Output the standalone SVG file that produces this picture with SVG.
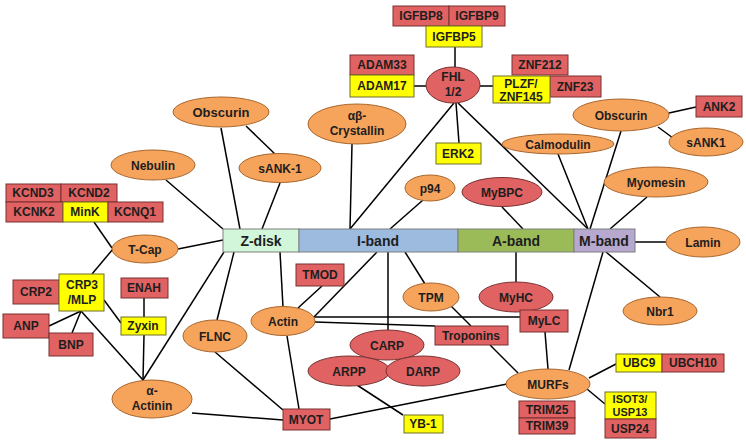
<svg xmlns="http://www.w3.org/2000/svg" width="746" height="442" viewBox="0 0 746 442">
<style>
text{font-family:"Liberation Sans",Arial,sans-serif;font-weight:bold;font-size:12px;fill:#1e1e1e;text-anchor:middle}
.bar{font-size:14px}
.sm{font-size:11px}
.o{fill:#F6A35C;stroke:#A8662C;stroke-width:1}
.r{fill:#E06262;stroke:#7A3030;stroke-width:1}
.y{fill:#FFFF00;stroke:#6E6E2A;stroke-width:1}
#connectors line{stroke:#000;stroke-width:1.5}
</style>
<rect width="746" height="442" fill="#fff"/>
<g id="connectors">
<line x1="166" y1="180" x2="223" y2="229"/>
<line x1="221" y1="128" x2="240" y2="229"/>
<line x1="246" y1="126" x2="276" y2="155"/>
<line x1="280" y1="183" x2="262" y2="229"/>
<line x1="94" y1="222" x2="112" y2="248"/>
<line x1="178" y1="249" x2="223" y2="240"/>
<line x1="113" y1="249" x2="92" y2="274"/>
<line x1="81" y1="311" x2="49" y2="326"/>
<line x1="81" y1="311" x2="72" y2="333"/>
<line x1="81" y1="311" x2="143" y2="380"/>
<line x1="104" y1="300" x2="121" y2="323"/>
<line x1="144" y1="298" x2="144" y2="317"/>
<line x1="144" y1="335" x2="143" y2="380"/>
<line x1="224" y1="252" x2="143" y2="380"/>
<line x1="234" y1="252" x2="217" y2="320"/>
<line x1="280" y1="252" x2="283" y2="307"/>
<line x1="215" y1="352" x2="283" y2="410"/>
<line x1="192" y1="413" x2="283" y2="420"/>
<line x1="287" y1="336" x2="299" y2="409"/>
<line x1="322" y1="286" x2="298" y2="308"/>
<line x1="313" y1="318" x2="377" y2="252"/>
<line x1="315" y1="317" x2="520" y2="317"/>
<line x1="315" y1="322" x2="435" y2="326"/>
<line x1="388" y1="252" x2="388" y2="330"/>
<line x1="405" y1="252" x2="425" y2="284"/>
<line x1="450" y1="305" x2="471" y2="326"/>
<line x1="352" y1="144" x2="350" y2="229"/>
<line x1="454" y1="103" x2="350" y2="229"/>
<line x1="423" y1="200" x2="390" y2="229"/>
<line x1="456" y1="103" x2="459" y2="143"/>
<line x1="458" y1="103" x2="588" y2="229"/>
<line x1="455" y1="47" x2="455" y2="67"/>
<line x1="414" y1="86" x2="426" y2="86"/>
<line x1="480" y1="86" x2="493" y2="86"/>
<line x1="558" y1="154" x2="588" y2="229"/>
<line x1="621" y1="131" x2="590" y2="229"/>
<line x1="669" y1="113" x2="696" y2="107"/>
<line x1="658" y1="127" x2="673" y2="138"/>
<line x1="647" y1="197" x2="610" y2="229"/>
<line x1="635" y1="242" x2="666" y2="242"/>
<line x1="606" y1="252" x2="660" y2="297"/>
<line x1="502" y1="207" x2="523" y2="229"/>
<line x1="516" y1="252" x2="516" y2="282"/>
<line x1="545" y1="332" x2="548" y2="369"/>
<line x1="603" y1="252" x2="569" y2="370"/>
<line x1="490" y1="345" x2="518" y2="373"/>
<line x1="330" y1="419" x2="507" y2="384"/>
<line x1="357" y1="385" x2="403" y2="415"/>
<line x1="589" y1="378" x2="616" y2="364"/>
<line x1="587" y1="389" x2="605" y2="404"/>
</g>
<g id="bar">
<g id="zdisk"><rect x="223" y="229" width="76" height="23" fill="#D2F6D9" stroke="#7F7F7F"/><text class="bar" x="261" y="246">Z-disk</text></g>
<g id="iband"><rect x="299" y="229" width="159" height="23" fill="#9DBADF" stroke="#7F7F7F"/><text class="bar" x="378" y="246">I-band</text></g>
<g id="aband"><rect x="458" y="229" width="116" height="23" fill="#9BBB59" stroke="#7F7F7F"/><text class="bar" x="516" y="246">A-band</text></g>
<g id="mband"><rect x="574" y="229" width="61" height="23" fill="#B6A8CF" stroke="#7F7F7F"/><text class="bar" x="604" y="246">M-band</text></g>
</g>
<g id="obscurinL"><ellipse class="o" cx="221" cy="112" rx="48" ry="15"/><text x="221" y="117" style="font-size:13px">Obscurin</text></g>
<g id="nebulin"><ellipse class="o" cx="153" cy="165" rx="42" ry="15"/><text x="153" y="170">Nebulin</text></g>
<g id="sank-1"><ellipse class="o" cx="280" cy="168" rx="41" ry="14.5"/><text x="280" y="173">sANK-1</text></g>
<g id="crystallin"><ellipse class="o" cx="357" cy="124" rx="49" ry="20"/><text x="357" y="120">αβ-</text><text x="357" y="135">Crystallin</text></g>
<g id="p94"><ellipse class="o" cx="430" cy="188" rx="25" ry="13"/><text x="430" y="193">p94</text></g>
<g id="calmodulin"><ellipse class="o" cx="558" cy="144" rx="56" ry="10"/><text x="558" y="149">Calmodulin</text></g>
<g id="obscurinR"><ellipse class="o" cx="621" cy="115" rx="48" ry="16"/><text x="621" y="120">Obscurin</text></g>
<g id="sank1"><ellipse class="o" cx="706" cy="142" rx="37" ry="14"/><text x="706" y="147">sANK1</text></g>
<g id="myomesin"><ellipse class="o" cx="656" cy="182" rx="52" ry="15"/><text x="656" y="187">Myomesin</text></g>
<g id="lamin"><ellipse class="o" cx="703" cy="242" rx="37" ry="15"/><text x="703" y="247">Lamin</text></g>
<g id="nbr1"><ellipse class="o" cx="660" cy="311" rx="37" ry="14"/><text x="660" y="316">Nbr1</text></g>
<g id="tpm"><ellipse class="o" cx="431" cy="297" rx="28" ry="14"/><text x="431" y="302">TPM</text></g>
<g id="tcap"><ellipse class="o" cx="145" cy="249" rx="33" ry="14"/><text x="145" y="254">T-Cap</text></g>
<g id="actin"><ellipse class="o" cx="283" cy="321" rx="32" ry="14.5"/><text x="283" y="326">Actin</text></g>
<g id="flnc"><ellipse class="o" cx="215" cy="336" rx="32" ry="16"/><text x="215" y="341">FLNC</text></g>
<g id="actinin"><ellipse class="o" cx="152" cy="399" rx="40" ry="19"/><text x="152" y="395">α-</text><text x="152" y="410">Actinin</text></g>
<g id="murfs"><ellipse class="o" cx="548" cy="384" rx="42" ry="15"/><text x="548" y="389">MURFs</text></g>
<g id="fhl"><ellipse class="r" cx="453" cy="85" rx="27" ry="18"/><text x="453" y="81">FHL</text><text x="453" y="96">1/2</text></g>
<g id="mybpc"><ellipse class="r" cx="502" cy="192" rx="40" ry="14.5"/><text x="502" y="197">MyBPC</text></g>
<g id="myhc"><ellipse class="r" cx="516" cy="297" rx="37" ry="15"/><text x="516" y="302">MyHC</text></g>
<g id="carp"><ellipse class="r" cx="387" cy="345" rx="37" ry="15"/><text x="387" y="350">CARP</text></g>
<g id="arpp"><ellipse class="r" cx="349" cy="371" rx="41" ry="15"/><text x="349" y="376">ARPP</text></g>
<g id="darp"><ellipse class="r" cx="423" cy="371" rx="37" ry="15"/><text x="423" y="376">DARP</text></g>
<g id="igfbp8"><rect class="r" x="393" y="6" width="56" height="20"/><text x="421" y="20">IGFBP8</text></g>
<g id="igfbp9"><rect class="r" x="449" y="6" width="56" height="20"/><text x="477" y="20">IGFBP9</text></g>
<g id="igfbp5"><rect class="y" x="426" y="26" width="56" height="21"/><text x="454" y="41">IGFBP5</text></g>
<g id="adam33"><rect class="r" x="350" y="55" width="64" height="20"/><text x="382" y="69">ADAM33</text></g>
<g id="adam17"><rect class="y" x="350" y="75" width="64" height="22"/><text x="382" y="90">ADAM17</text></g>
<g id="znf212"><rect class="r" x="512" y="55" width="56" height="20"/><text x="540" y="69">ZNF212</text></g>
<g id="znf23"><rect class="r" x="550" y="76" width="51" height="21"/><text x="575" y="91">ZNF23</text></g>
<g id="plzf"><rect class="y" x="493" y="76" width="57" height="27"/><text x="521" y="88">PLZF/</text><text x="521" y="101">ZNF145</text></g>
<g id="erk2"><rect class="y" x="436" y="143" width="45" height="21"/><text x="458" y="158">ERK2</text></g>
<g id="ank2"><rect class="r" x="696" y="96" width="46" height="21"/><text x="719" y="111">ANK2</text></g>
<g id="kcnd3"><rect class="r" x="6" y="184" width="55" height="18"/><text x="33" y="197">KCND3</text></g>
<g id="kcnd2"><rect class="r" x="61" y="184" width="56" height="18"/><text x="89" y="197">KCND2</text></g>
<g id="kcnk2"><rect class="r" x="6" y="202" width="57" height="20"/><text x="34" y="216">KCNK2</text></g>
<g id="mink"><rect class="y" x="63" y="202" width="45" height="20"/><text x="85" y="216">MinK</text></g>
<g id="kcnq1"><rect class="r" x="108" y="202" width="55" height="20"/><text x="135" y="216">KCNQ1</text></g>
<g id="crp2"><rect class="r" x="13" y="280" width="46" height="24"/><text x="36" y="296">CRP2</text></g>
<g id="crp3"><rect class="y" x="59" y="274" width="45" height="37"/><text x="82" y="289">CRP3</text><text x="82" y="304">/MLP</text></g>
<g id="anp"><rect class="r" x="3" y="314" width="46" height="24"/><text x="26" y="330">ANP</text></g>
<g id="bnp"><rect class="r" x="49" y="333" width="44" height="23"/><text x="71" y="349">BNP</text></g>
<g id="enah"><rect class="r" x="121" y="278" width="47" height="20"/><text x="144" y="292">ENAH</text></g>
<g id="zyxin"><rect class="y" x="121" y="317" width="45" height="18"/><text x="143" y="330">Zyxin</text></g>
<g id="tmod"><rect class="r" x="296" y="264" width="48" height="22"/><text x="320" y="279">TMOD</text></g>
<g id="mylc"><rect class="r" x="520" y="310" width="48" height="22"/><text x="544" y="325">MyLC</text></g>
<g id="troponins"><rect class="r" x="435" y="326" width="73" height="19"/><text x="471" y="340">Troponins</text></g>
<g id="myot"><rect class="r" x="283" y="409" width="47" height="21"/><text x="306" y="424">MYOT</text></g>
<g id="yb1"><rect class="y" x="404" y="415" width="39" height="18"/><text x="423" y="428">YB-1</text></g>
<g id="ubc9"><rect class="y" x="616" y="354" width="46" height="18"/><text x="639" y="367">UBC9</text></g>
<g id="ubch10"><rect class="r" x="662" y="354" width="62" height="18"/><text x="693" y="367">UBCH10</text></g>
<g id="isot3"><rect class="y" x="605" y="392" width="51" height="27"/><text class="sm" x="630" y="403">ISOT3/</text><text class="sm" x="630" y="416">USP13</text></g>
<g id="usp24"><rect class="r" x="605" y="419" width="51" height="19"/><text x="630" y="433">USP24</text></g>
<g id="trim25"><rect class="r" x="519" y="401" width="56" height="17"/><text x="547" y="414">TRIM25</text></g>
<g id="trim39"><rect class="r" x="519" y="418" width="56" height="16"/><text x="547" y="430">TRIM39</text></g>
</svg>
